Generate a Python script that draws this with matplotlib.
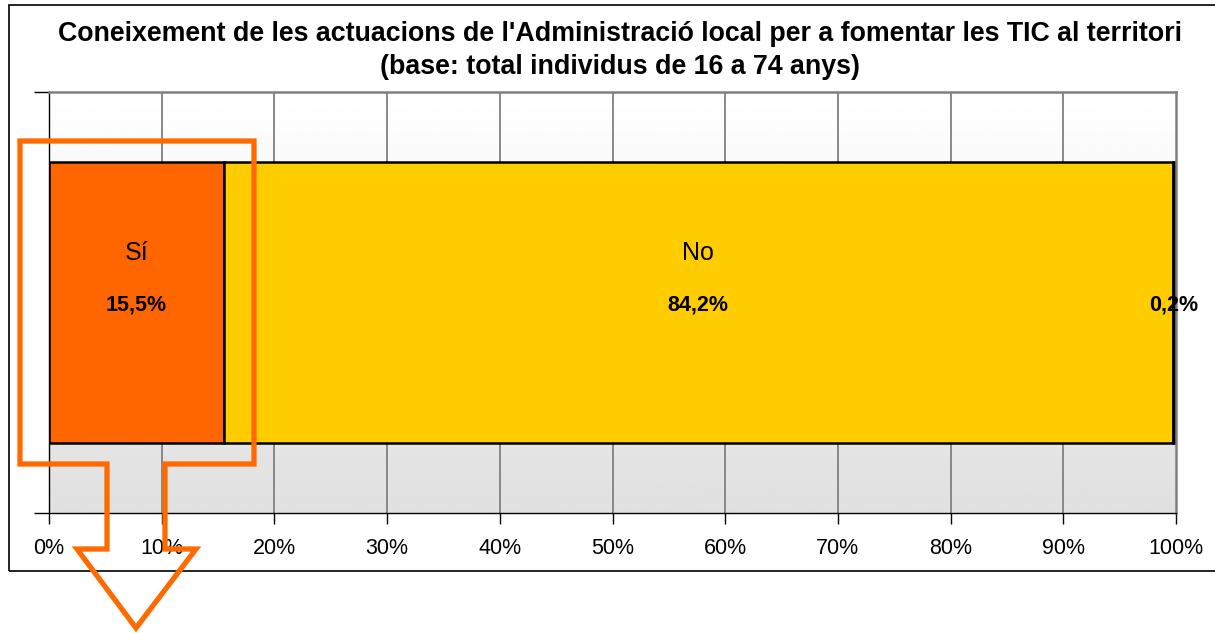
import numpy as np
import matplotlib.pyplot as plt
from matplotlib.patches import Rectangle, Polygon

plt.rcParams['font.family'] = ['Liberation Sans', 'DejaVu Sans']

# data
categories = ['Sí', 'No', 'Ns/Nc']
values = [15.5, 84.2, 0.2]
value_labels = ['15,5%', '84,2%', '0,2%']
show_name = [True, True, False]
colors = ['#FF6600', '#FFCC00', '#222222']
tick_labels = ['0%', '10%', '20%', '30%', '40%', '50%', '60%', '70%', '80%', '90%', '100%']

W, H = 1215, 633
fig = plt.figure(figsize=(W / 100, H / 100), dpi=100)

def px(x0, y0, x1, y1):
    # pixel box -> figure fraction [left, bottom, width, height]
    return [x0 / W, 1 - y1 / H, (x1 - x0) / W, (y1 - y0) / H]

ax = fig.add_axes(px(49, 92, 1176, 513))

# gradient background of the plot area
grad = np.linspace(1.0, 0.878, 256).reshape(-1, 1)
ax.imshow(grad, cmap='gray', vmin=0, vmax=1, aspect='auto',
          extent=[0, 100, -0.75, 0.75], zorder=0, origin='upper')

ax.set_xlim(0, 100)
ax.set_ylim(-0.75, 0.75)

for x in range(10, 100, 10):
    ax.axvline(x, color='#808080', lw=1.3, zorder=1)

left = 0
for cat, v, lab, c, nm in zip(categories, values, value_labels, colors, show_name):
    ax.barh(0, v, left=left, height=1.0, color=c, edgecolor='black', lw=1.8, zorder=2)
    cx = left + v / 2
    if nm:
        ax.text(cx, 0.175, cat, ha='center', va='center', fontsize=18, zorder=3)
    ax.text(cx, -0.01, lab, ha='center', va='center', fontsize=15.5,
            fontweight='bold', zorder=3)
    left += v

ax.set_xticks(range(0, 101, 10))
ax.set_xticklabels(tick_labels, fontsize=15.5)
ax.tick_params(axis='x', length=8, width=1, color='black', pad=10)
ax.set_yticks([-0.75, 0.75])
ax.set_yticklabels([])
ax.tick_params(axis='y', length=11, width=1, color='black')

for s in ['top', 'right']:
    ax.spines[s].set_color('#808080')
    ax.spines[s].set_linewidth(1.8)
ax.spines['left'].set_color('black')
ax.spines['bottom'].set_color('black')
ax.spines['left'].set_linewidth(1)
ax.spines['bottom'].set_linewidth(1)

# title
fig.text(620 / W, 1 - 34 / H, "Coneixement de les actuacions de l'Administració local per a fomentar les TIC al territori",
         ha='center', va='center', fontsize=19.3, fontweight='bold')
fig.text(620 / W, 1 - 67 / H, "(base: total individus de 16 a 74 anys)",
         ha='center', va='center', fontsize=19.3, fontweight='bold')

# chart border
fig.patches.append(Rectangle((9 / W, 1 - 571 / H), (1220 - 9) / W, (571 - 5) / H,
                             transform=fig.transFigure, fill=False,
                             edgecolor='black', lw=1.2))

# orange arrow overlay
arrow_px = [(20, 141), (254, 141), (254, 464), (165, 464), (165, 549), (196, 549),
            (136, 628), (77, 549), (107, 549), (107, 464), (20, 464)]
arrow = [(x / W, 1 - y / H) for x, y in arrow_px]
fig.patches.append(Polygon(arrow, closed=True, transform=fig.transFigure, fill=False,
                           edgecolor='#FF6A00', lw=3.8, joinstyle='miter', zorder=10))

fig.savefig('out.png', dpi=100)
